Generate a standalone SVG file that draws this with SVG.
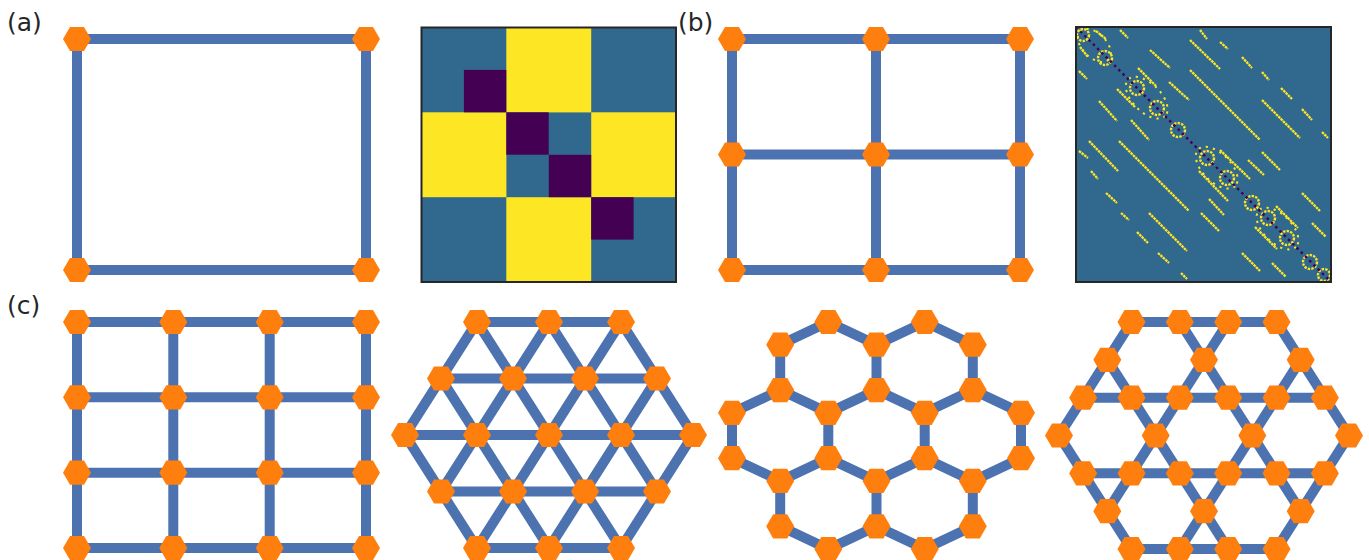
<svg xmlns="http://www.w3.org/2000/svg" xmlns:xlink="http://www.w3.org/1999/xlink" width="1369" height="560" viewBox="0 0 1369 560">
<style>
.edge{stroke:#4c72b0;stroke-width:10;fill:none}
.lbl{font-family:"DejaVu Sans",sans-serif;font-size:25px;fill:#262626}
.ml{stroke:#fde725;stroke-width:2.3;stroke-dasharray:2.6 0.7;fill:none}
.ring{stroke:#fde725;stroke-width:2.4;stroke-dasharray:2.4 1.2;fill:none}
.ell{stroke:#fde725;stroke-width:2;stroke-dasharray:2.2 5;fill:none}
.frame{fill:none;stroke:#262626;stroke-width:2}
</style>
<defs>
<polygon id="hex" points="14,0 7,12.12 -7,12.12 -14,0 -7,-12.12 7,-12.12" fill="#ff7f0e"/>
<clipPath id="mclip"><rect x="0" y="0" width="255" height="255"/></clipPath>
<g id="upper">
<line class="ml" x1="124" y1="3" x2="131" y2="12"/>
<line class="ml" x1="114" y1="13" x2="144" y2="42"/>
<line class="ml" x1="144" y1="15" x2="152" y2="22"/>
<line class="ml" x1="166" y1="30" x2="176" y2="41"/>
<line class="ml" x1="186" y1="45" x2="193" y2="53"/>
<line class="ml" x1="205" y1="61" x2="216" y2="72"/>
<line class="ml" x1="114" y1="43" x2="184" y2="113"/>
<line class="ml" x1="186" y1="73" x2="224" y2="111"/>
<line class="ml" x1="226" y1="82" x2="236" y2="93"/>
<line class="ml" x1="246" y1="105" x2="252" y2="111"/>
<line class="ml" x1="74" y1="23" x2="94" y2="41"/>
<line class="ml" x1="44" y1="3" x2="52" y2="11"/>
<line class="ml" x1="186" y1="125" x2="204" y2="143"/>
<line class="ml" x1="226" y1="166" x2="244" y2="184"/>
<line class="ml" x1="20" y1="4" x2="30" y2="12"/>
<line class="ml" x1="62" y1="41" x2="80" y2="59"/>
<line class="ml" x1="144" y1="123" x2="174" y2="152"/>
<line class="ml" x1="200" y1="179" x2="222" y2="201"/>
<line class="ml" x1="93" y1="55" x2="113" y2="73"/>
<line class="ml" x1="172" y1="133" x2="188" y2="148"/>
<line class="ml" x1="236" y1="196" x2="250" y2="210"/>
</g>
</defs>
<rect width="1369" height="560" fill="#ffffff"/>

<g id="labels">
<text class="lbl" x="7" y="31">(a)</text>
<text class="lbl" x="678" y="31">(b)</text>
<text class="lbl" x="7" y="314">(c)</text>
</g>

<g id="matrix-a">
<rect x="421.5" y="27.5" width="254.5" height="254.5" fill="#31688e"/>
<rect x="506.3" y="27.5" width="84.9" height="84.9" fill="#fde725"/>
<rect x="421.5" y="112.3" width="84.9" height="84.9" fill="#fde725"/>
<rect x="591.2" y="112.3" width="84.9" height="84.9" fill="#fde725"/>
<rect x="506.3" y="197.2" width="84.9" height="84.9" fill="#fde725"/>
<rect x="463.9" y="69.9" width="42.4" height="42.4" fill="#440154"/>
<rect x="506.3" y="112.3" width="42.4" height="42.4" fill="#440154"/>
<rect x="548.8" y="154.8" width="42.4" height="42.4" fill="#440154"/>
<rect x="591.2" y="197.2" width="42.4" height="42.4" fill="#440154"/>
<rect class="frame" x="421.5" y="27.5" width="254.5" height="254.5"/>
</g>

<g id="matrix-b">
<g transform="translate(1076,27)">
<g clip-path="url(#mclip)">
<rect x="0" y="0" width="255" height="255" fill="#31688e"/>
<use xlink:href="#upper" href="#upper"/>
<use xlink:href="#upper" href="#upper" transform="matrix(0 1 1 0 0 0)"/>
<g transform="rotate(45)">
<ellipse class="ell" cx="100" cy="0" rx="26" ry="14"/>
<ellipse class="ell" cx="199" cy="0" rx="26" ry="14"/>
<ellipse class="ell" cx="285" cy="0" rx="26" ry="14"/>
<ellipse class="ell" cx="26" cy="0" rx="20" ry="12"/>
</g>
<circle class="ring" cx="7" cy="8" r="6"/>
<circle class="ring" cx="29" cy="31" r="7"/>
<circle class="ring" cx="61" cy="61" r="7"/>
<circle class="ring" cx="81" cy="81" r="7"/>
<circle class="ring" cx="102" cy="103" r="7"/>
<circle class="ring" cx="131" cy="131" r="7"/>
<circle class="ring" cx="151" cy="151" r="7"/>
<circle class="ring" cx="176" cy="176" r="7"/>
<circle class="ring" cx="192" cy="191" r="7"/>
<circle class="ring" cx="211" cy="211" r="7"/>
<circle class="ring" cx="234" cy="235" r="7"/>
<circle class="ring" cx="248" cy="248" r="6"/>
<line x1="0" y1="0" x2="255" y2="255" stroke="#440154" stroke-width="2.4" stroke-dasharray="2.5 3.5"/>
</g>
</g>
<rect class="frame" x="1076" y="27" width="255" height="255"/>
</g>

<g id="connectors">
<!-- panel a -->
<line class="edge" x1="77" y1="39" x2="366" y2="39"/>
<line class="edge" x1="77" y1="270" x2="366" y2="270"/>
<line class="edge" x1="77" y1="39" x2="77" y2="270"/>
<line class="edge" x1="366" y1="39" x2="366" y2="270"/>
<!-- panel b -->
<line class="edge" x1="732" y1="39" x2="1020" y2="39"/>
<line class="edge" x1="732" y1="154.5" x2="1020" y2="154.5"/>
<line class="edge" x1="732" y1="270" x2="1020" y2="270"/>
<line class="edge" x1="732" y1="39" x2="732" y2="270"/>
<line class="edge" x1="876" y1="39" x2="876" y2="270"/>
<line class="edge" x1="1020" y1="39" x2="1020" y2="270"/>
<!-- square lattice -->
<line class="edge" x1="77" y1="322" x2="366" y2="322"/>
<line class="edge" x1="77" y1="397.3" x2="366" y2="397.3"/>
<line class="edge" x1="77" y1="472.7" x2="366" y2="472.7"/>
<line class="edge" x1="77" y1="548" x2="366" y2="548"/>
<line class="edge" x1="77" y1="322" x2="77" y2="548"/>
<line class="edge" x1="173.3" y1="322" x2="173.3" y2="548"/>
<line class="edge" x1="269.7" y1="322" x2="269.7" y2="548"/>
<line class="edge" x1="366" y1="322" x2="366" y2="548"/>
<!-- triangular lattice -->
<line class="edge" x1="477" y1="322" x2="621" y2="322"/>
<line class="edge" x1="441" y1="378.5" x2="657" y2="378.5"/>
<line class="edge" x1="405" y1="435" x2="693" y2="435"/>
<line class="edge" x1="441" y1="491.5" x2="657" y2="491.5"/>
<line class="edge" x1="477" y1="548" x2="621" y2="548"/>
<line class="edge" x1="405" y1="435" x2="477" y2="548"/>
<line class="edge" x1="441" y1="378.5" x2="549" y2="548"/>
<line class="edge" x1="477" y1="322" x2="621" y2="548"/>
<line class="edge" x1="549" y1="322" x2="657" y2="491.5"/>
<line class="edge" x1="621" y1="322" x2="693" y2="435"/>
<line class="edge" x1="693" y1="435" x2="621" y2="548"/>
<line class="edge" x1="657" y1="378.5" x2="549" y2="548"/>
<line class="edge" x1="621" y1="322" x2="477" y2="548"/>
<line class="edge" x1="549" y1="322" x2="441" y2="491.5"/>
<line class="edge" x1="477" y1="322" x2="405" y2="435"/>
<!-- honeycomb -->
<line class="edge" x1="828.3" y1="322" x2="780.2" y2="344.7"/>
<line class="edge" x1="828.3" y1="322" x2="876.5" y2="344.7"/>
<line class="edge" x1="924.7" y1="322" x2="876.5" y2="344.7"/>
<line class="edge" x1="924.7" y1="322" x2="972.8" y2="344.7"/>
<line class="edge" x1="780.2" y1="344.7" x2="780.2" y2="390.1"/>
<line class="edge" x1="876.5" y1="344.7" x2="876.5" y2="390.1"/>
<line class="edge" x1="972.8" y1="344.7" x2="972.8" y2="390.1"/>
<line class="edge" x1="780.2" y1="390.1" x2="732" y2="412.8"/>
<line class="edge" x1="780.2" y1="390.1" x2="828.3" y2="412.8"/>
<line class="edge" x1="876.5" y1="390.1" x2="828.3" y2="412.8"/>
<line class="edge" x1="876.5" y1="390.1" x2="924.7" y2="412.8"/>
<line class="edge" x1="972.8" y1="390.1" x2="924.7" y2="412.8"/>
<line class="edge" x1="972.8" y1="390.1" x2="1021" y2="412.8"/>
<line class="edge" x1="732" y1="412.8" x2="732" y2="458.2"/>
<line class="edge" x1="828.3" y1="412.8" x2="828.3" y2="458.2"/>
<line class="edge" x1="924.7" y1="412.8" x2="924.7" y2="458.2"/>
<line class="edge" x1="1021" y1="412.8" x2="1021" y2="458.2"/>
<line class="edge" x1="732" y1="458.2" x2="780.2" y2="480.9"/>
<line class="edge" x1="828.3" y1="458.2" x2="780.2" y2="480.9"/>
<line class="edge" x1="828.3" y1="458.2" x2="876.5" y2="480.9"/>
<line class="edge" x1="924.7" y1="458.2" x2="876.5" y2="480.9"/>
<line class="edge" x1="924.7" y1="458.2" x2="972.8" y2="480.9"/>
<line class="edge" x1="1021" y1="458.2" x2="972.8" y2="480.9"/>
<line class="edge" x1="780.2" y1="480.9" x2="780.2" y2="526.3"/>
<line class="edge" x1="876.5" y1="480.9" x2="876.5" y2="526.3"/>
<line class="edge" x1="972.8" y1="480.9" x2="972.8" y2="526.3"/>
<line class="edge" x1="780.2" y1="526.3" x2="828.3" y2="549"/>
<line class="edge" x1="876.5" y1="526.3" x2="828.3" y2="549"/>
<line class="edge" x1="876.5" y1="526.3" x2="924.7" y2="549"/>
<line class="edge" x1="972.8" y1="526.3" x2="924.7" y2="549"/>
<!-- kagome -->
<line class="edge" x1="1131.5" y1="322" x2="1276.5" y2="322"/>
<line class="edge" x1="1083.15" y1="397.7" x2="1324.85" y2="397.7"/>
<line class="edge" x1="1083.15" y1="473.3" x2="1324.85" y2="473.3"/>
<line class="edge" x1="1131.5" y1="549" x2="1276.5" y2="549"/>
<line class="edge" x1="1059" y1="435.5" x2="1131.5" y2="549"/>
<line class="edge" x1="1107.3" y1="359.8" x2="1228.2" y2="549"/>
<line class="edge" x1="1179.8" y1="322" x2="1300.7" y2="511.2"/>
<line class="edge" x1="1276.5" y1="322" x2="1349" y2="435.5"/>
<line class="edge" x1="1131.5" y1="322" x2="1059" y2="435.5"/>
<line class="edge" x1="1228.2" y1="322" x2="1107.3" y2="511.2"/>
<line class="edge" x1="1300.7" y1="359.8" x2="1179.8" y2="549"/>
<line class="edge" x1="1349" y1="435.5" x2="1276.5" y2="549"/>
</g>

<g id="nodes">
<g id="a-n0"><use href="#hex" xlink:href="#hex" x="77" y="39"/></g>
<g id="a-n1"><use href="#hex" xlink:href="#hex" x="366" y="39"/></g>
<g id="a-n2"><use href="#hex" xlink:href="#hex" x="77" y="270"/></g>
<g id="a-n3"><use href="#hex" xlink:href="#hex" x="366" y="270"/></g>

<g id="b-n0"><use href="#hex" xlink:href="#hex" x="732" y="39"/></g>
<g id="b-n1"><use href="#hex" xlink:href="#hex" x="876" y="39"/></g>
<g id="b-n2"><use href="#hex" xlink:href="#hex" x="1020" y="39"/></g>
<g id="b-n3"><use href="#hex" xlink:href="#hex" x="732" y="154.5"/></g>
<g id="b-n4"><use href="#hex" xlink:href="#hex" x="876" y="154.5"/></g>
<g id="b-n5"><use href="#hex" xlink:href="#hex" x="1020" y="154.5"/></g>
<g id="b-n6"><use href="#hex" xlink:href="#hex" x="732" y="270"/></g>
<g id="b-n7"><use href="#hex" xlink:href="#hex" x="876" y="270"/></g>
<g id="b-n8"><use href="#hex" xlink:href="#hex" x="1020" y="270"/></g>

<g id="sq-n0"><use href="#hex" xlink:href="#hex" x="77" y="322"/></g>
<g id="sq-n1"><use href="#hex" xlink:href="#hex" x="173.3" y="322"/></g>
<g id="sq-n2"><use href="#hex" xlink:href="#hex" x="269.7" y="322"/></g>
<g id="sq-n3"><use href="#hex" xlink:href="#hex" x="366" y="322"/></g>
<g id="sq-n4"><use href="#hex" xlink:href="#hex" x="77" y="397.3"/></g>
<g id="sq-n5"><use href="#hex" xlink:href="#hex" x="173.3" y="397.3"/></g>
<g id="sq-n6"><use href="#hex" xlink:href="#hex" x="269.7" y="397.3"/></g>
<g id="sq-n7"><use href="#hex" xlink:href="#hex" x="366" y="397.3"/></g>
<g id="sq-n8"><use href="#hex" xlink:href="#hex" x="77" y="472.7"/></g>
<g id="sq-n9"><use href="#hex" xlink:href="#hex" x="173.3" y="472.7"/></g>
<g id="sq-n10"><use href="#hex" xlink:href="#hex" x="269.7" y="472.7"/></g>
<g id="sq-n11"><use href="#hex" xlink:href="#hex" x="366" y="472.7"/></g>
<g id="sq-n12"><use href="#hex" xlink:href="#hex" x="77" y="548"/></g>
<g id="sq-n13"><use href="#hex" xlink:href="#hex" x="173.3" y="548"/></g>
<g id="sq-n14"><use href="#hex" xlink:href="#hex" x="269.7" y="548"/></g>
<g id="sq-n15"><use href="#hex" xlink:href="#hex" x="366" y="548"/></g>

<g id="tri-n0"><use href="#hex" xlink:href="#hex" x="477" y="322"/></g>
<g id="tri-n1"><use href="#hex" xlink:href="#hex" x="549" y="322"/></g>
<g id="tri-n2"><use href="#hex" xlink:href="#hex" x="621" y="322"/></g>
<g id="tri-n3"><use href="#hex" xlink:href="#hex" x="441" y="378.5"/></g>
<g id="tri-n4"><use href="#hex" xlink:href="#hex" x="513" y="378.5"/></g>
<g id="tri-n5"><use href="#hex" xlink:href="#hex" x="585" y="378.5"/></g>
<g id="tri-n6"><use href="#hex" xlink:href="#hex" x="657" y="378.5"/></g>
<g id="tri-n7"><use href="#hex" xlink:href="#hex" x="405" y="435"/></g>
<g id="tri-n8"><use href="#hex" xlink:href="#hex" x="477" y="435"/></g>
<g id="tri-n9"><use href="#hex" xlink:href="#hex" x="549" y="435"/></g>
<g id="tri-n10"><use href="#hex" xlink:href="#hex" x="621" y="435"/></g>
<g id="tri-n11"><use href="#hex" xlink:href="#hex" x="693" y="435"/></g>
<g id="tri-n12"><use href="#hex" xlink:href="#hex" x="441" y="491.5"/></g>
<g id="tri-n13"><use href="#hex" xlink:href="#hex" x="513" y="491.5"/></g>
<g id="tri-n14"><use href="#hex" xlink:href="#hex" x="585" y="491.5"/></g>
<g id="tri-n15"><use href="#hex" xlink:href="#hex" x="657" y="491.5"/></g>
<g id="tri-n16"><use href="#hex" xlink:href="#hex" x="477" y="548"/></g>
<g id="tri-n17"><use href="#hex" xlink:href="#hex" x="549" y="548"/></g>
<g id="tri-n18"><use href="#hex" xlink:href="#hex" x="621" y="548"/></g>

<g id="hc-n0"><use href="#hex" xlink:href="#hex" x="828.3" y="322"/></g>
<g id="hc-n1"><use href="#hex" xlink:href="#hex" x="924.7" y="322"/></g>
<g id="hc-n2"><use href="#hex" xlink:href="#hex" x="780.2" y="344.7"/></g>
<g id="hc-n3"><use href="#hex" xlink:href="#hex" x="876.5" y="344.7"/></g>
<g id="hc-n4"><use href="#hex" xlink:href="#hex" x="972.8" y="344.7"/></g>
<g id="hc-n5"><use href="#hex" xlink:href="#hex" x="780.2" y="390.1"/></g>
<g id="hc-n6"><use href="#hex" xlink:href="#hex" x="876.5" y="390.1"/></g>
<g id="hc-n7"><use href="#hex" xlink:href="#hex" x="972.8" y="390.1"/></g>
<g id="hc-n8"><use href="#hex" xlink:href="#hex" x="732" y="412.8"/></g>
<g id="hc-n9"><use href="#hex" xlink:href="#hex" x="828.3" y="412.8"/></g>
<g id="hc-n10"><use href="#hex" xlink:href="#hex" x="924.7" y="412.8"/></g>
<g id="hc-n11"><use href="#hex" xlink:href="#hex" x="1021" y="412.8"/></g>
<g id="hc-n12"><use href="#hex" xlink:href="#hex" x="732" y="458.2"/></g>
<g id="hc-n13"><use href="#hex" xlink:href="#hex" x="828.3" y="458.2"/></g>
<g id="hc-n14"><use href="#hex" xlink:href="#hex" x="924.7" y="458.2"/></g>
<g id="hc-n15"><use href="#hex" xlink:href="#hex" x="1021" y="458.2"/></g>
<g id="hc-n16"><use href="#hex" xlink:href="#hex" x="780.2" y="480.9"/></g>
<g id="hc-n17"><use href="#hex" xlink:href="#hex" x="876.5" y="480.9"/></g>
<g id="hc-n18"><use href="#hex" xlink:href="#hex" x="972.8" y="480.9"/></g>
<g id="hc-n19"><use href="#hex" xlink:href="#hex" x="780.2" y="526.3"/></g>
<g id="hc-n20"><use href="#hex" xlink:href="#hex" x="876.5" y="526.3"/></g>
<g id="hc-n21"><use href="#hex" xlink:href="#hex" x="972.8" y="526.3"/></g>
<g id="hc-n22"><use href="#hex" xlink:href="#hex" x="828.3" y="549"/></g>
<g id="hc-n23"><use href="#hex" xlink:href="#hex" x="924.7" y="549"/></g>

<g id="kg-n0"><use href="#hex" xlink:href="#hex" x="1131.5" y="322"/></g>
<g id="kg-n1"><use href="#hex" xlink:href="#hex" x="1179.8" y="322"/></g>
<g id="kg-n2"><use href="#hex" xlink:href="#hex" x="1228.2" y="322"/></g>
<g id="kg-n3"><use href="#hex" xlink:href="#hex" x="1276.5" y="322"/></g>
<g id="kg-n4"><use href="#hex" xlink:href="#hex" x="1107.3" y="359.8"/></g>
<g id="kg-n5"><use href="#hex" xlink:href="#hex" x="1204" y="359.8"/></g>
<g id="kg-n6"><use href="#hex" xlink:href="#hex" x="1300.7" y="359.8"/></g>
<g id="kg-n7"><use href="#hex" xlink:href="#hex" x="1083.15" y="397.7"/></g>
<g id="kg-n8"><use href="#hex" xlink:href="#hex" x="1131.5" y="397.7"/></g>
<g id="kg-n9"><use href="#hex" xlink:href="#hex" x="1179.8" y="397.7"/></g>
<g id="kg-n10"><use href="#hex" xlink:href="#hex" x="1228.2" y="397.7"/></g>
<g id="kg-n11"><use href="#hex" xlink:href="#hex" x="1276.5" y="397.7"/></g>
<g id="kg-n12"><use href="#hex" xlink:href="#hex" x="1324.85" y="397.7"/></g>
<g id="kg-n13"><use href="#hex" xlink:href="#hex" x="1059" y="435.5"/></g>
<g id="kg-n14"><use href="#hex" xlink:href="#hex" x="1155.7" y="435.5"/></g>
<g id="kg-n15"><use href="#hex" xlink:href="#hex" x="1252.3" y="435.5"/></g>
<g id="kg-n16"><use href="#hex" xlink:href="#hex" x="1349" y="435.5"/></g>
<g id="kg-n17"><use href="#hex" xlink:href="#hex" x="1083.15" y="473.3"/></g>
<g id="kg-n18"><use href="#hex" xlink:href="#hex" x="1131.5" y="473.3"/></g>
<g id="kg-n19"><use href="#hex" xlink:href="#hex" x="1179.8" y="473.3"/></g>
<g id="kg-n20"><use href="#hex" xlink:href="#hex" x="1228.2" y="473.3"/></g>
<g id="kg-n21"><use href="#hex" xlink:href="#hex" x="1276.5" y="473.3"/></g>
<g id="kg-n22"><use href="#hex" xlink:href="#hex" x="1324.85" y="473.3"/></g>
<g id="kg-n23"><use href="#hex" xlink:href="#hex" x="1107.3" y="511.2"/></g>
<g id="kg-n24"><use href="#hex" xlink:href="#hex" x="1204" y="511.2"/></g>
<g id="kg-n25"><use href="#hex" xlink:href="#hex" x="1300.7" y="511.2"/></g>
<g id="kg-n26"><use href="#hex" xlink:href="#hex" x="1131.5" y="549"/></g>
<g id="kg-n27"><use href="#hex" xlink:href="#hex" x="1179.8" y="549"/></g>
<g id="kg-n28"><use href="#hex" xlink:href="#hex" x="1228.2" y="549"/></g>
<g id="kg-n29"><use href="#hex" xlink:href="#hex" x="1276.5" y="549"/></g>
</g>
</svg>
